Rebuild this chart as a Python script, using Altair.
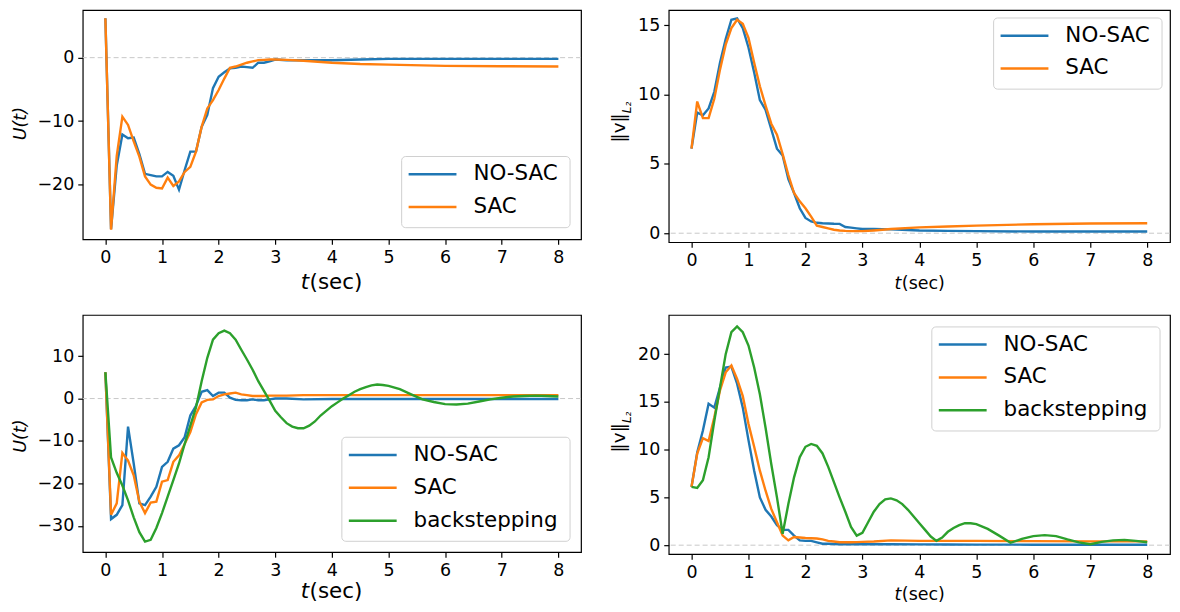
import altair as alt
import pandas as pd

FONT = "DejaVu Sans"
BLUE, ORANGE, GREEN = "#1f77b4", "#ff7f0e", "#2ca02c"

# shared time grid for NO-SAC / SAC series (seconds)
T_A = [0.0, 0.1, 0.2, 0.3, 0.4, 0.5, 0.6, 0.7, 0.8, 0.9,
       1.0, 1.1, 1.2, 1.3, 1.4, 1.5, 1.6, 1.7, 1.8, 1.9,
       2.0, 2.1, 2.2, 2.3, 2.4, 2.5, 2.6, 2.7, 2.8, 2.9,
       3.0, 3.2, 3.5, 4.0, 4.5, 5.0, 6.0, 7.0, 8.0]

# time grid for backstepping series
T_G = [0.0, 0.1, 0.2, 0.3, 0.4, 0.5, 0.6, 0.7, 0.8, 0.9,
       1.0, 1.1, 1.2, 1.3, 1.4, 1.5, 1.6, 1.7, 1.8, 1.9,
       2.0, 2.1, 2.2, 2.3, 2.4, 2.5, 2.6, 2.7, 2.8, 2.9,
       3.0, 3.1, 3.2, 3.3, 3.4, 3.5, 3.6, 3.7, 3.8, 3.9,
       4.0, 4.1, 4.2, 4.3, 4.4, 4.5, 4.6, 4.7, 4.8, 4.9,
       5.0, 5.2, 5.4, 5.6, 5.8, 6.0, 6.2, 6.4, 6.6, 6.8,
       7.0, 7.2, 7.4, 7.6, 7.8, 8.0]

X_TICKS = [0, 1, 2, 3, 4, 5, 6, 7, 8]

# ---- top-left: U(t)
TL_NOSAC = [6.2, -27.0, -17.0, -12.1, -12.7, -12.6, -15.2, -18.3, -18.5, -18.7,
            -18.7, -18.0, -18.6, -20.8, -17.7, -14.8, -14.8, -10.9, -9.0, -4.8,
            -3.0, -2.3, -1.7, -1.6, -1.4, -1.5, -1.6, -0.8, -0.8, -0.6,
            -0.3, -0.4, -0.4, -0.4, -0.3, -0.2, -0.2, -0.2, -0.2]
TL_SAC = [6.2, -27.1, -15.5, -9.3, -10.6, -13.2, -15.6, -18.7, -20.0, -20.5,
          -20.6, -18.9, -20.2, -19.5, -18.0, -17.2, -14.8, -10.9, -8.0, -6.7,
          -5.1, -3.3, -1.6, -1.4, -1.1, -0.8, -0.6, -0.4, -0.35, -0.3,
          -0.3, -0.35, -0.5, -0.8, -1.0, -1.1, -1.3, -1.35, -1.4]

# ---- top-right: ||v||
TR_NOSAC = [6.1, 8.7, 8.5, 9.0, 10.2, 12.3, 14.0, 15.4, 15.5, 14.8,
            13.4, 11.6, 9.6, 8.9, 7.5, 6.1, 5.6, 3.9, 2.9, 1.8,
            1.1, 0.85, 0.75, 0.72, 0.7, 0.68, 0.67, 0.45, 0.4, 0.35,
            0.3, 0.3, 0.28, 0.2, 0.17, 0.15, 0.12, 0.12, 0.12]
TR_SAC = [6.1, 9.5, 8.3, 8.3, 9.7, 11.8, 13.6, 14.8, 15.4, 15.1,
          14.1, 12.3, 10.6, 9.2, 7.9, 7.1, 5.7, 4.2, 2.9, 2.3,
          1.8, 1.2, 0.55, 0.45, 0.35, 0.25, 0.2, 0.17, 0.15, 0.15,
          0.15, 0.2, 0.3, 0.42, 0.48, 0.55, 0.65, 0.7, 0.72]

# ---- bottom-left: U(t) with backstepping
BL_NOSAC = [6.2, -28.4, -27.4, -25.1, -6.6, -15.3, -24.7, -25.1, -23.1, -20.8,
            -16.1, -14.9, -11.8, -11.0, -9.1, -4.0, -1.7, 1.6, 2.0, 0.6,
            1.4, 1.4, 0.2, -0.3, -0.4, -0.4, -0.2, -0.4, -0.4, -0.2,
            0.0, 0.0, -0.2, -0.1, -0.1, -0.1, -0.1, -0.1, -0.1]
BL_SAC = [6.2, -27.4, -24.7, -12.8, -14.6, -18.1, -24.3, -27.0, -24.5, -24.3,
          -19.6, -19.2, -14.9, -13.4, -10.7, -7.9, -3.7, -0.9, -0.3, -0.2,
          0.6, 1.0, 1.2, 1.4, 1.0, 0.8, 0.6, 0.6, 0.6, 0.7,
          0.7, 0.7, 0.8, 0.8, 0.8, 0.8, 0.8, 0.8, 0.8]
BL_BACK = [6.2, -13.9, -17.5, -20.5, -24.0, -28.0, -31.5, -33.7, -33.3, -30.5,
           -27.0, -23.1, -19.2, -15.3, -10.7, -6.4, -2.1, 4.1, 9.6, 13.9,
           15.4, 16.0, 15.4, 13.9, 11.5, 9.2, 6.8, 4.1, 1.8, -0.5,
           -2.9, -4.4, -5.8, -6.6, -7.0, -7.0, -6.4, -5.4, -4.0, -2.9,
           -1.8, -0.9, 0.0, 0.8, 1.6, 2.2, 2.7, 3.1, 3.3, 3.2,
           3.0, 2.2, 1.0, -0.2, -0.8, -1.3, -1.4, -1.2, -0.7, -0.2,
           0.2, 0.5, 0.6, 0.7, 0.6, 0.5]

# ---- bottom-right: ||v|| with backstepping
BR_NOSAC = [6.1, 9.7, 12.0, 14.8, 14.4, 16.5, 18.6, 18.7, 16.9, 14.4,
            11.0, 7.8, 5.0, 3.7, 3.0, 2.1, 1.6, 1.6, 1.0, 0.5,
            0.45, 0.45, 0.3, 0.15, 0.15, 0.12, 0.1, 0.1, 0.1, 0.1,
            0.1, 0.1, 0.1, 0.08, 0.07, 0.06, 0.05, 0.05, 0.05]
BR_SAC = [6.1, 9.6, 11.2, 10.9, 13.4, 16.2, 18.1, 18.8, 17.4, 15.6,
          12.7, 10.3, 7.8, 5.7, 3.8, 2.4, 1.0, 0.5, 0.85, 0.8,
          0.75, 0.72, 0.7, 0.6, 0.45, 0.38, 0.3, 0.3, 0.3, 0.32,
          0.35, 0.38, 0.5, 0.45, 0.45, 0.45, 0.42, 0.4, 0.4]
BR_BACK = [6.1, 6.0, 6.8, 9.2, 13.0, 16.5, 20.0, 22.3, 22.9, 22.3,
           20.9, 18.6, 15.8, 12.3, 8.5, 5.0, 1.2, 4.3, 7.1, 9.2,
           10.3, 10.6, 10.4, 9.6, 8.2, 6.6, 5.0, 3.5, 1.9, 1.0,
           1.3, 2.4, 3.5, 4.3, 4.8, 4.9, 4.7, 4.3, 3.7, 3.0,
           2.3, 1.6, 0.9, 0.45, 0.8, 1.4, 1.8, 2.1, 2.3, 2.3,
           2.2, 1.7, 1.0, 0.25, 0.65, 0.95, 1.05, 0.95, 0.6, 0.3,
           0.1, 0.35, 0.5, 0.55, 0.45, 0.3]

ONE = pd.DataFrame({"a": [0]})
LEG_FONT = 21.5
LEG_ROW = 33


def txt(s, x, y, size, style="normal", angle=0, align="center", baseline="alphabetic"):
    return alt.Chart(ONE).mark_text(
        text=s, font=FONT, fontSize=size, fontStyle=style, angle=angle,
        align=align, baseline=baseline, color="black"
    ).encode(x=alt.value(x), y=alt.value(y))


def legend(names, colors, lx, ly, lw):
    lh = 2 * 17.7 + LEG_ROW * (len(names) - 1) + 3
    parts = [alt.Chart(ONE).mark_rect(
        fill="white", fillOpacity=0.85, stroke="#d0d0d0", strokeWidth=1, cornerRadius=4
    ).encode(x=alt.value(lx), x2=alt.value(lx + lw), y=alt.value(ly), y2=alt.value(ly + lh))]
    for i, (n, c) in enumerate(zip(names, colors)):
        yy = ly + 17.7 + LEG_ROW * i
        parts.append(alt.Chart(ONE).mark_rule(color=c, strokeWidth=2.5).encode(
            x=alt.value(lx + 7), x2=alt.value(lx + 55), y=alt.value(yy)))
        parts.append(txt(n, lx + 72, yy, LEG_FONT, align="left", baseline="middle"))
    return parts


def norm_title(yc):
    # ||v||_{L2}, rotated, reading bottom to top
    return [txt("‖v‖", -50, yc, 18.5, angle=270, align="right", baseline="middle"),
            txt("L₂", -42, yc, 12, style="italic", angle=270, align="left", baseline="middle")]


def panel(series, ydom, yticks, w, h, leg_x, leg_y, leg_w, titles):
    rows = []
    for name, ts, vs in series:
        for t, v in zip(ts, vs):
            rows.append({"t": t, "v": v, "series": name})
    df = pd.DataFrame(rows)
    names = [s[0] for s in series]
    colors = [BLUE, ORANGE, GREEN][:len(names)]

    xenc = alt.X("t:Q", scale=alt.Scale(domain=[-0.4, 8.4], nice=False, zero=False),
                 axis=alt.Axis(values=X_TICKS, title=None, format="d"))
    yenc = alt.Y("v:Q", scale=alt.Scale(domain=ydom, nice=False, zero=False),
                 axis=alt.Axis(values=yticks, title=None, format="d"))

    zero = alt.Chart(pd.DataFrame({"v": [0]})).mark_rule(
        color="#c8c8c8", strokeDash=[5, 3], strokeWidth=1
    ).encode(y=alt.Y("v:Q"))

    lines = alt.Chart(df).mark_line(strokeWidth=2.4).encode(
        x=xenc, y=yenc,
        color=alt.Color("series:N", scale=alt.Scale(domain=names, range=colors), legend=None),
    )
    return alt.layer(zero, lines, *legend(names, colors, leg_x, leg_y, leg_w), *titles).properties(
        width=w, height=h)


# ---- panels
W_L, W_R = 500, 503
H_TL, H_TR, H_BL, H_BR = 230, 233, 238, 240

tl = panel(
    [("NO-SAC", T_A, TL_NOSAC), ("SAC", T_A, TL_SAC)],
    [-28.6, 7.5], [-20, -10, 0], W_L, H_TL, 320, 147, 169,
    [txt("t", 227.1, H_TL + 50, 21.5, style="italic", align="right"),
     txt("(sec)", 227.6, H_TL + 50, 21.5, align="left"),
     txt("U(t)", -62, 114, 17.5, style="italic", angle=270, baseline="middle")],
)

tr = panel(
    [("NO-SAC", T_A, TR_NOSAC), ("SAC", T_A, TR_SAC)],
    [-0.65, 16.1], [0, 5, 10, 15], W_R, H_TR, 326, 8, 169,
    [txt("t", 233.4, H_TR + 47, 17.5, style="italic", align="right"),
     txt("(sec)", 233.9, H_TR + 47, 17.5, align="left")] + norm_title(103.5),
)

bl = panel(
    [("NO-SAC", T_A, BL_NOSAC), ("SAC", T_A, BL_SAC), ("backstepping", T_G, BL_BACK)],
    [-36.2, 19.7], [-30, -20, -10, 0, 10], W_L, H_BL, 260, 122.7, 229,
    [txt("t", 227.1, H_BL + 46, 21.5, style="italic", align="right"),
     txt("(sec)", 227.6, H_BL + 46, 21.5, align="left"),
     txt("U(t)", -62, 121.5, 17.5, style="italic", angle=270, baseline="middle")],
)

br = panel(
    [("NO-SAC", T_A, BR_NOSAC), ("SAC", T_A, BR_SAC), ("backstepping", T_G, BR_BACK)],
    [-0.94, 24.1], [0, 5, 10, 15, 20], W_R, H_BR, 264, 12, 229,
    [txt("t", 233.4, H_BR + 46.5, 17.5, style="italic", align="right"),
     txt("(sec)", 233.9, H_BR + 46.5, 17.5, align="left")] + norm_title(108.5),
)

chart = alt.concat(tl, tr, bl, br, columns=2).properties(
    bounds="flush", align="each", spacing={"row": 73, "column": 88},
    padding={"left": 3, "top": 0, "right": 0, "bottom": 0},
).resolve_scale(color="independent").configure_view(
    stroke="black", strokeWidth=1.2
).configure_axis(
    domain=False, grid=False, ticks=True, tickColor="black", tickSize=5, tickWidth=1.2,
    labelFont=FONT, labelFontSize=17.5, labelColor="black", labelPadding=4,
)

chart.save("out.html", embed_options={"renderer": "svg", "actions": False})
